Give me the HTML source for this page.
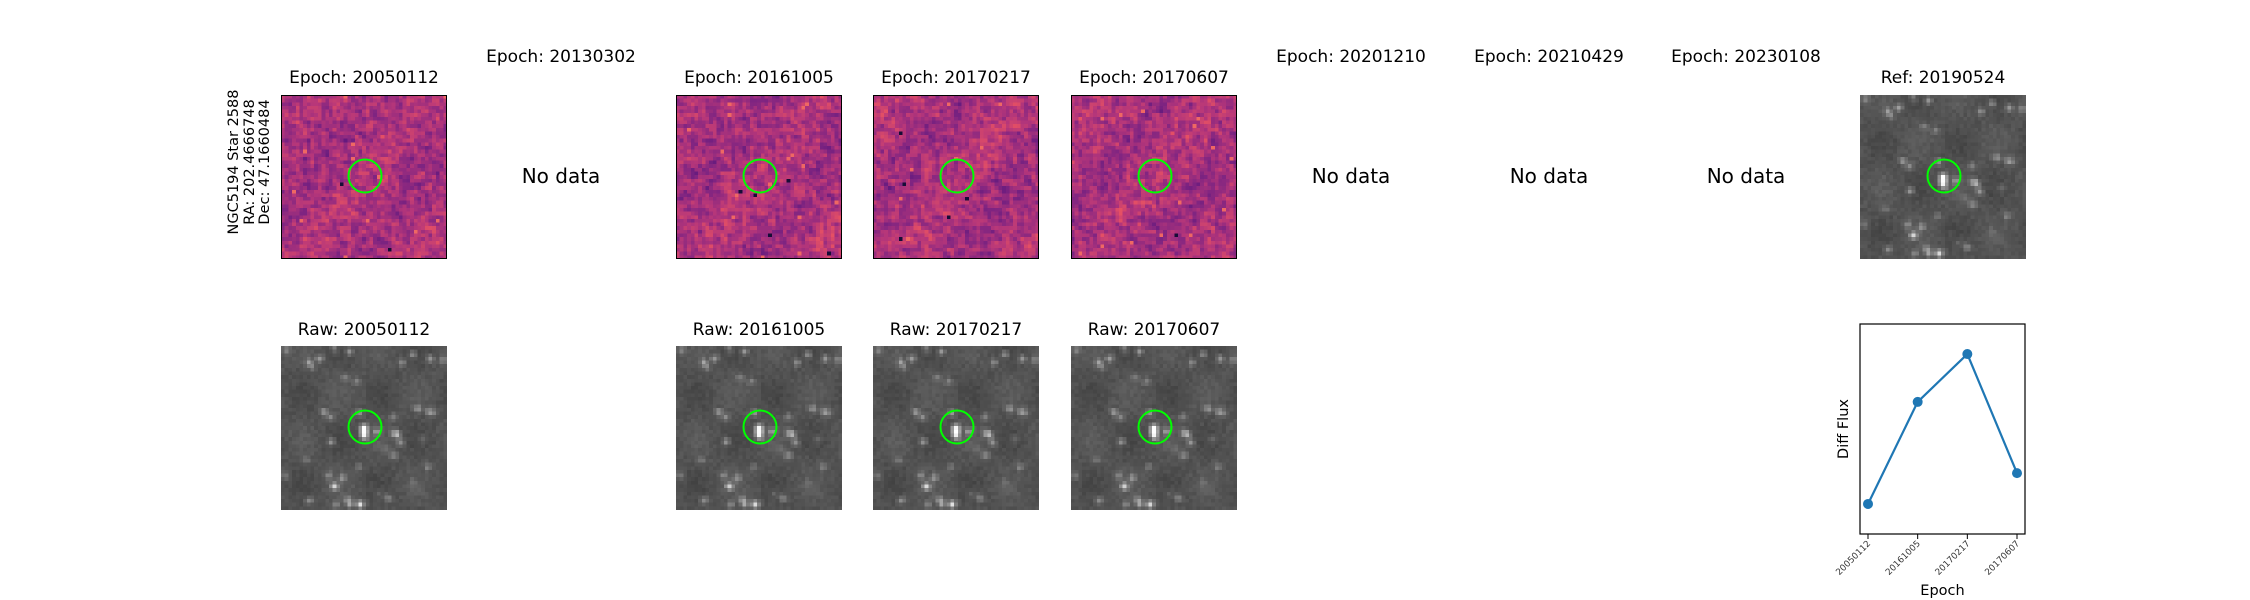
<!DOCTYPE html>
<html><head><meta charset="utf-8">
<style>
body{margin:0;background:#fff;}
#fig{position:relative;width:2250px;height:600px;overflow:hidden;font-family:"DejaVu Sans","Liberation Sans",sans-serif;color:#000;}
.t{position:absolute;font-size:17px;white-space:nowrap;transform:translateX(-50%);}
.nd{position:absolute;font-size:20px;white-space:nowrap;transform:translate(-50%,-50%);}
canvas{position:absolute;}
.box{position:absolute;border:1px solid #000;box-sizing:border-box;pointer-events:none;}
</style></head><body>
<div id="fig">
<div style="position:absolute;left:250px;top:162px;transform:translate(-50%,-50%) rotate(-90deg);font-size:14.5px;line-height:15.5px;text-align:center;white-space:nowrap;">NGC5194 Star 2588<br>RA: 202.4666748<br>Dec: 47.1660484</div>
<svg id="lc" width="2250" height="600" style="position:absolute;left:0;top:0"></svg>
</div>
<script>
const fig=document.getElementById('fig');
const colX=[281,478,676,873,1071,1268,1466,1663,1860];
const epochs=['20050112','20130302','20161005','20170217','20170607','20201210','20210429','20230108'];
const hasData=[true,false,true,true,true,false,false,false];
const W=166,H=164,TOP=95,BOT=346;
let seed=12345;
function rnd(){seed=(seed*1664525+1013904223)>>>0;return seed/4294967296;}
function magma(t){
 const s=[[0,0,4],[28,16,68],[79,18,123],[129,37,129],[181,54,122],[229,80,100],[251,135,97],[254,194,135],[252,253,191]];
 t=Math.max(0,Math.min(1,t))*8;const i=Math.min(7,Math.floor(t)),f=t-i;
 return s[i].map((v,k)=>Math.round(v+(s[i+1][k]-v)*f));
}
const N=45;
const stars=[];
for(let i=0;i<38;i++)stars.push([rnd()*N,rnd()*N,0.15+rnd()*0.35]);
stars.push([22,22,1.1],[22,23.5,1.0],[25.5,23,0.45],[21,43,0.9],[14,38,0.8],[10,3,0.5],[18,1,0.5],[40,3,0.5]);
const base=[];for(let i=0;i<N*N;i++)base.push(rnd());
function rawField(){
 const a=[];
 for(let y=0;y<N;y++)for(let x=0;x<N;x++){
  let v=0.3+0.05*base[y*N+x]+0.04*Math.sin(x*0.3)*Math.cos(y*0.25);
  for(const s of stars){const d=(x-s[0])**2+(y-s[1])**2;v+=s[2]*Math.exp(-d/1.0)*0.6;}
  a.push(Math.min(1,v));
 }return a;
}
const raw=rawField();
function drawCanvas(name,x,y,type,border){
 const c=document.createElement('canvas');c.width=N;c.height=N;
 c.style.left=x+'px';c.style.top=y+'px';c.style.width=W+'px';c.style.height=H+'px';c.style.imageRendering='pixelated';
 
 
 const g=c.getContext('2d');const im=g.createImageData(N,N);
 const nz=[];for(let i=0;i<N*N;i++)nz.push(rnd());
 for(let i=0;i<N*N;i++){
  let col;
  if(type==='diff'){
   const x=i%N,yy=Math.floor(i/N);
   const nb=(nz[i]*2+(nz[i-1]||0.5)+(nz[i+N]||0.5))/4;
   let v=0.47+(nb-0.5)*0.3+0.03*Math.sin(x*0.2+yy*0.15);
   if(rnd()<0.002)v=0.1;if(rnd()<0.008)v=0.68;col=magma(v);}
  else{const v=Math.round(raw[i]*255*(0.96+rnd()*0.06));col=[v,v,v].map(q=>Math.min(255,q));}
  im.data[i*4]=col[0];im.data[i*4+1]=col[1];im.data[i*4+2]=col[2];im.data[i*4+3]=255;
 }
 g.putImageData(im,0,0);fig.appendChild(c);
 if(border){const b=document.createElement('div');b.className='box';b.style.left=x+'px';b.style.top=y+'px';b.style.width=W+'px';b.style.height=H+'px';
  
  fig.appendChild(b);}
 const ns='http://www.w3.org/2000/svg';const sv=document.createElementNS(ns,'svg');
 sv.setAttribute('width',W);sv.setAttribute('height',H);sv.style.position='absolute';sv.style.left=x+'px';sv.style.top=y+'px';
 
 
 sv.innerHTML='<circle cx="'+(W/2+1)+'" cy="'+(H/2-1)+'" r="16.5" fill="none" stroke="#00ff00" stroke-width="2"/>';
 fig.appendChild(sv);
}
function addText(cls,txt,x,y,name){const d=document.createElement('div');d.className=cls;d.textContent=txt;d.style.left=x+'px';d.style.top=y+'px';
 
 fig.appendChild(d);}
epochs.forEach((e,i)=>{
 const cx=colX[i]+W/2;
 if(hasData[i]){
  addText('t','Epoch: '+e,cx,68,'diff-title-'+e);
  drawCanvas('diff-image-'+e,colX[i],TOP,'diff',true);
  addText('t','Raw: '+e,cx,320,'raw-title-'+e);
  drawCanvas('raw-image-'+e,colX[i],BOT,'raw',false);
 }else{
  addText('t','Epoch: '+e,cx,47,'epoch-title-'+e);
  addText('nd','No data',cx,176,'no-data-'+e);
 }
});
addText('t','Ref: 20190524',colX[8]+W/2,68,'ref-title');
drawCanvas('ref-image',colX[8],TOP,'raw',false);

const lcEpochs=['20050112','20161005','20170217','20170607'];
const lcFlux=[14.3,62.9,85.7,29.0];
const ax={l:1860,r:2025,t:324,b:534};
const yMin=0,yMax=100;
function xs(i){return ax.l+8+i*(ax.r-ax.l-16)/(lcEpochs.length-1);}
function ys(v){return ax.b-(v-yMin)/(yMax-yMin)*(ax.b-ax.t);}
const svg=document.getElementById('lc');let h='';
h+='<rect x="'+ax.l+'" y="'+ax.t+'" width="'+(ax.r-ax.l)+'" height="'+(ax.b-ax.t)+'" fill="none" stroke="#000" stroke-width="1.2"/>';
h+='<polyline fill="none" stroke="#1f77b4" stroke-width="2.2" points="'+lcFlux.map((v,i)=>xs(i)+','+ys(v)).join(' ')+'"/>';
lcFlux.forEach((v,i)=>{h+='<circle cx="'+xs(i)+'" cy="'+ys(v)+'" r="5" fill="#1f77b4"/>';});
lcEpochs.forEach((e,i)=>{const x=xs(i);
 h+='<line x1="'+x+'" y1="'+ax.b+'" x2="'+x+'" y2="'+(ax.b+5)+'" stroke="#000"/>';
 h+='<text x="'+(x+3)+'" y="'+(ax.b+10)+'" font-size="8.8" font-family="DejaVu Sans,Liberation Sans,sans-serif" text-anchor="end" transform="rotate(-45 '+(x+3)+' '+(ax.b+10)+')" fill="#333">'+e+'</text>';});
h+='<text x="'+((ax.l+ax.r)/2)+'" y="595" font-size="14.5" font-family="DejaVu Sans,Liberation Sans,sans-serif" text-anchor="middle">Epoch</text>';
h+='<text x="1848" y="'+((ax.t+ax.b)/2)+'" font-size="14.5" font-family="DejaVu Sans,Liberation Sans,sans-serif" text-anchor="middle" transform="rotate(-90 1848 '+((ax.t+ax.b)/2)+')">Diff Flux</text>';
svg.innerHTML=h;
</script>
</body></html>
